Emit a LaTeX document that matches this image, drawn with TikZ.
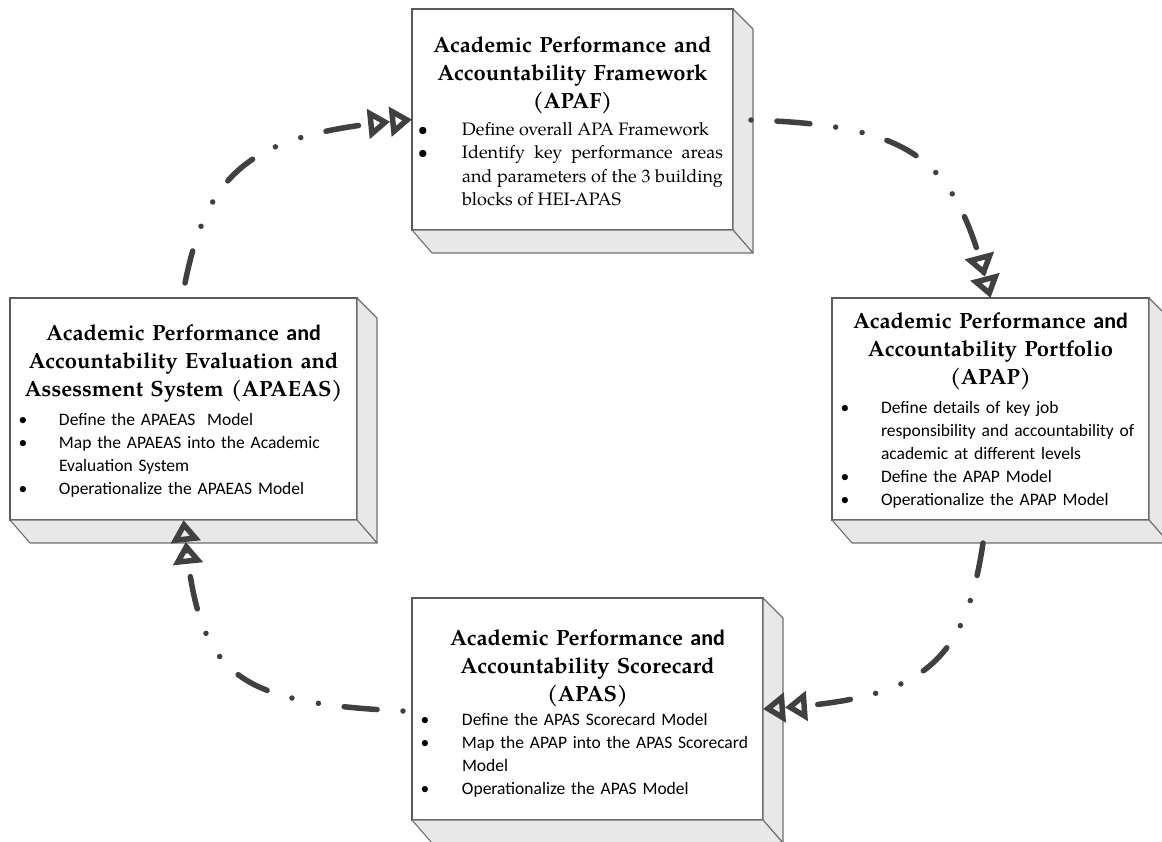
\documentclass[tikz,border=0pt]{standalone}
\usepackage{fontspec}
\setmainfont{texgyrepagella}[Extension=.otf,UprightFont=*-regular,BoldFont=*-bold,ItalicFont=*-italic,BoldItalicFont=*-bolditalic]
\setsansfont{Carlito}
\usetikzlibrary{arrows.meta}
\definecolor{arrowc}{HTML}{404040}
\definecolor{facec}{HTML}{E8E8E8}
\definecolor{edgec}{HTML}{707070}
\definecolor{frontc}{HTML}{5A5A5A}
\newcommand\xtitlefont{\fontsize{22}{28}\selectfont\bfseries}
\newcommand\xserifbody{\fontsize{18}{23.5}\selectfont}
\newcommand\xsansbody{\sffamily\fontsize{17.5}{23.2}\selectfont}
\newlength\xbind
\newlength\xboff
\newcommand\xbitem[1]{\noindent\hangindent=\xbind\hangafter=1\makebox[\xbind][l]{\hspace*{\xboff}\makebox[0pt]{\textbullet}}#1\par}
\newcommand\xboxdepth[1]{%
  \filldraw[face] (#1.north east) -- ([shift={(20,20)}]#1.north east) -- ([shift={(20,23)}]#1.south east) -- (#1.south east) -- cycle;
  \filldraw[face] (#1.south west) -- ([shift={(20,23)}]#1.south west) -- ([shift={(20,23)}]#1.south east) -- (#1.south east) -- cycle;}
\begin{document}
\begin{tikzpicture}[x=1pt,y=-1pt,
  box/.style={draw=frontc, line width=1.3pt, fill=white, inner sep=0pt, outer sep=0pt},
  face/.style={draw=edgec, line width=1.1pt, fill=facec, line join=round},
  titletext/.style={anchor=base, text width=360pt, align=center, font=\xtitlefont, inner sep=0pt},
  bodytext/.style={anchor=base west, inner sep=0pt, outer sep=0pt},
  tipx/.tip={Triangle[open,length=22pt,width=29pt,line width=5.5pt,sep=0pt]},
  flow/.style={draw=arrowc, line width=5.5pt, line cap=round,
    dash pattern=on 33pt off 26pt on 0pt off 27pt on 0pt off 26pt,
    -{tipx[]tipx[]}}]
\useasboundingbox (0,0) rectangle (1162,841);

% boxes
\node[box, minimum width=321pt, minimum height=221pt] (top) at (572.5,119.5) {};
\xboxdepth{top}
\node[box, minimum width=347pt, minimum height=222pt] (left) at (183.5,409) {};
\xboxdepth{left}
\node[box, minimum width=317pt, minimum height=222pt] (right) at (990.5,409) {};
\xboxdepth{right}
\node[box, minimum width=351pt, minimum height=222pt] (bottom) at (587.5,709) {};
\xboxdepth{bottom}

% top box text
\node[titletext] (t1) at (572.5,52) {Academic Performance and\\Accountability Framework\\(APAF)};
\node[bodytext, text width=311pt, align=justify,
  font={\xserifbody\setlength\xbind{50pt}\setlength\xboff{11pt}\hyphenpenalty=10000 }] (b1) at (412,135)
  {\xbitem{Define overall APA Framework}\xbitem{Identify key performance areas\linebreak and parameters of the 3 building\linebreak blocks of HEI-APAS}};

% right box text
\node[titletext] (t2) at (990.5,328) {Academic Performance {\sffamily and}\\Accountability Portfolio\\(APAP)};
\node[bodytext, text width=317pt, align=left,
  font={\xsansbody\setlength\xbind{49pt}\setlength\xboff{13pt}\hyphenpenalty=10000 }] (b2) at (832,413)
  {\xbitem{Define details of key job\newline responsibility and accountability of\newline academic at different levels}\xbitem{Define the APAP Model}\xbitem{Operationalize the APAP Model}};

% left box text
\node[titletext] (t3) at (183.5,340) {Academic Performance {\sffamily and}\\Accountability Evaluation and\\Assessment System (APAEAS)};
\node[bodytext, text width=347pt, align=left,
  font={\xsansbody\setlength\xbind{49pt}\setlength\xboff{13pt}\hyphenpenalty=10000 }] (b3) at (10,425)
  {\xbitem{Define the APAEAS\ \ Model}\xbitem{Map the APAEAS into the Academic\newline Evaluation System}\xbitem{Operationalize the APAEAS Model}};

% bottom box text
\node[titletext] (t4) at (587.5,645) {Academic Performance {\sffamily and}\\Accountability Scorecard\\(APAS)};
\node[bodytext, text width=351pt, align=left,
  font={\xsansbody\setlength\xbind{50pt}\setlength\xboff{13pt}\hyphenpenalty=10000 }] (b4) at (412,725)
  {\xbitem{Define the APAS Scorecard Model}\xbitem{Map the APAP into the APAS Scorecard\newline Model}\xbitem{Operationalize the APAS Model}};

% connectors
\coordinate (s1) at ([shift={(1.5,-15)}]left.north);
\coordinate (s2) at ([shift={(18,0.5)}]top.east);
\coordinate (s3) at ([shift={(-7.5,23)}]right.south);
\coordinate (s4) at ([shift={(-9,2)}]bottom.west);
\draw[flow] (s1) .. controls +(23,-114) and +(-159,16) .. (top.west);
\draw[flow, dash phase=86pt] (s2) .. controls +(159,5) and +(-37,-141) .. (right.north);
\draw[flow] (s3) .. controls +(-18,122) and +(157,-11) .. (bottom.east);
\draw[flow, dash phase=86pt] (s4) .. controls +(-170,-8) and +(16,154) .. (left.south);
\end{tikzpicture}
\end{document}
